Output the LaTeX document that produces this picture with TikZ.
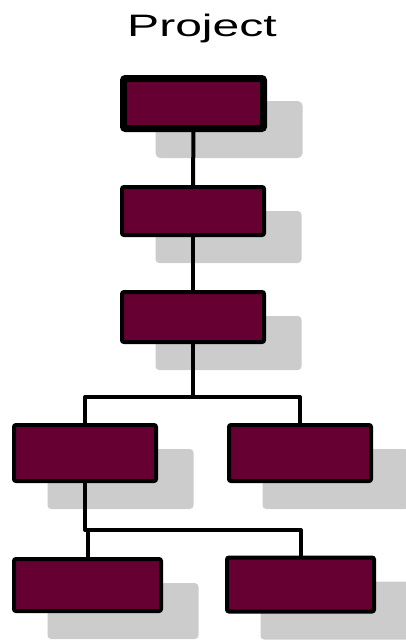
\documentclass[tikz,border=0pt]{standalone}
\usepackage{fontspec}
\newfontfamily\titlefont{Liberation Sans}
\usepackage{tikz}
\usetikzlibrary{shadows}
\definecolor{maroonbox}{RGB}{102,0,51}
\definecolor{shadowgray}{RGB}{204,204,204}

\begin{document}
\begin{tikzpicture}[x=1pt,y=-1pt,
  box/.style={rectangle,draw=black,fill=maroonbox,line width=#1,rounded corners=2pt,
              minimum width=142pt,minimum height=50pt,inner sep=0pt,
              drop shadow={shadow xshift=35.5pt,shadow yshift=-26pt,fill=shadowgray,
                           draw=shadowgray,line width=#1,opacity=1}},
  box/.default=4pt,
  link/.style={draw=black,line width=4pt,line join=round},
  title/.style={font=\titlefont\fontsize{31}{38}\selectfont,anchor=base,inner sep=0pt}
]
  \useasboundingbox (0,0) rectangle (406,640);
  \node[title] (ttl) at (202,36.7) {\scalebox{1.55}[1]{Project}};
  % chain down the middle
  \node[box=7pt,minimum width=140pt] (b1) at (193.5,103.5) {};
  \node[box,minimum height=48pt] (b2) at (193,211) {};
  \node[box] (b3) at (193,317) {};
  % second level
  \node[box,minimum height=56pt] (b4l) at (85,453) {};
  \node[box,minimum height=56pt] (b4r) at (300,453) {};
  % third level
  \node[box,minimum width=147pt,minimum height=52pt] (b5l) at (87.5,585) {};
  \node[box,minimum width=147pt,minimum height=54pt] (b5r) at (300.5,584.5) {};
  \coordinate (j1) at (193,397);
  \coordinate (j2) at (85,530);
  \draw[link] (b1) -- (b2);
  \draw[link] (b2) -- (b3);
  \draw[link] (b3) -- (j1);
  \draw[link] (b4l.north) |- (j1) -| (b4r.north);
  \draw[link] (b4l.south) -- (j2) -| (b5r.north);
  \draw[link] (j2 -| b5l.north) -- (b5l.north);
\end{tikzpicture}
\end{document}
